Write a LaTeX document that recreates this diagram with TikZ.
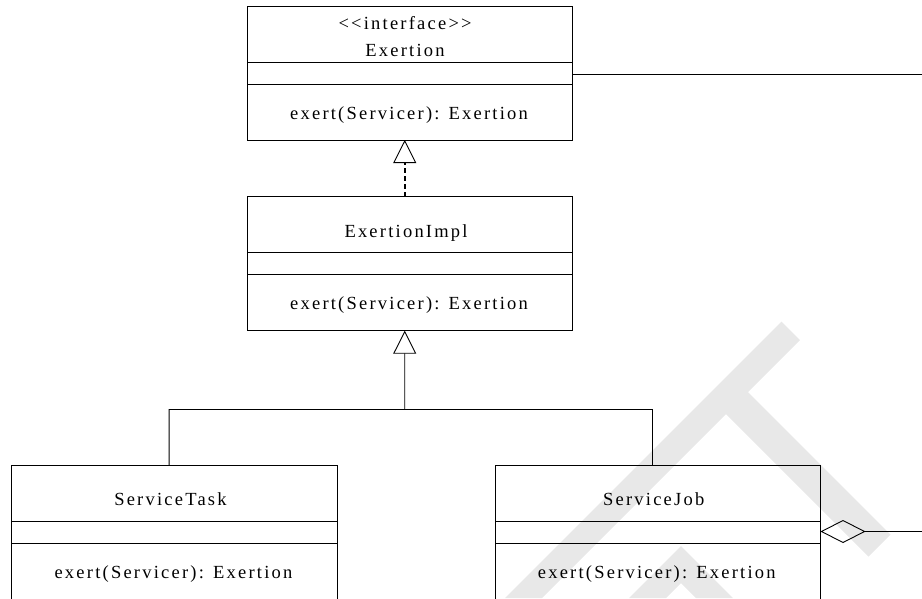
\documentclass[tikz,border=0pt]{standalone}
\usepackage{fontspec}
\newfontfamily\umlfont[LetterSpace=12]{Liberation Serif}
\usetikzlibrary{arrows.meta}
\definecolor{wmgray}{RGB}{232,232,232}
\tikzset{
  umlclass/.style={draw, line width=0.9pt, anchor=north west, minimum width=325.5pt,
    minimum height=134pt, inner sep=0pt, outer sep=0pt},
  umltext/.style={font=\umlfont\fontsize{18.5}{22}\selectfont, inner sep=0pt, anchor=base},
  conn/.style={line width=0.9pt},
  realize/.style={line width=1.8pt, dash pattern=on 5pt off 3pt,
    -{Triangle[open,length=23pt,width=23pt,line width=0.9pt]}},
  inherit/.style={conn, -{Triangle[open,length=23pt,width=23pt,line width=0.9pt]}},
  aggreg/.style={conn, {Diamond[open,length=45pt,width=23pt,line width=0.9pt]}-},
}
\begin{document}
\begin{tikzpicture}[x=1pt,y=-1pt]
\useasboundingbox (0,0) rectangle (922,598);

% faint logo in the background
\fill[wmgray] (781.5,321.5) -- (800,340) -- (748,392) -- (890.5,534.5) -- (868.5,556.5)
  -- (726,414) -- (542,598) -- (505,598) -- cycle;
\fill[wmgray] (629,598) -- (681,546) -- (733,598) -- (696,598) -- (681,583) -- (666,598) -- cycle;

% class boxes
\node[umlclass] (ex)   at (247.3,6)     {};
\node[umlclass] (impl) at (247.3,196.7) {};
\node[umlclass] (task) at (11.7,465.3)  {};
\node[umlclass] (job)  at (495,465.3)   {};

% compartments: name / attributes / operations
\foreach \c in {ex,impl,task,job}{
  \draw[conn] ([yshift=-56pt]\c.north west) -- ([yshift=-56pt]\c.north east);
  \draw[conn] ([yshift=-78pt]\c.north west) -- ([yshift=-78pt]\c.north east);
}

% texts
\node[umltext] (exstereo) at ([xshift=-5pt,yshift=-23.3pt]ex.north) {<<interface>>};
\node[umltext] (exname)   at ([xshift=-5pt,yshift=-50pt]ex.north)   {Exertion};
\node[umltext] (exop)     at ([xshift=-1pt,yshift=-113pt]ex.north)  {exert(Servicer): Exertion};

\node[umltext] (implname) at ([xshift=-4pt,yshift=-40.6pt]impl.north) {ExertionImpl};
\node[umltext] (implop)   at ([xshift=-1pt,yshift=-112.6pt]impl.north) {exert(Servicer): Exertion};

\node[umltext] (taskname) at ([xshift=-4pt,yshift=-39.7pt]task.north) {ServiceTask};
\node[umltext] (taskop)   at ([xshift=-1pt,yshift=-113.4pt]task.north) {exert(Servicer): Exertion};

\node[umltext] (jobname)  at ([xshift=-4pt,yshift=-39.7pt]job.north) {ServiceJob};
\node[umltext] (jobop)    at ([xshift=-1pt,yshift=-113.4pt]job.north) {exert(Servicer): Exertion};

% connectors
\coordinate (junc)    at (404.7,409.5);
\coordinate (exline)  at (922,74);
\coordinate (aggend)  at (922,531.5);

\draw[realize] ([xshift=-5.3pt]impl.north) -- ([xshift=-5.3pt]ex.south);
\draw[inherit] ([xshift=-5.3pt]task.north) |- (junc) -- ([xshift=-5.3pt]impl.south);
\draw[conn] ([xshift=-5.8pt]job.north) |- (junc);
\draw[conn] ([yshift=-68pt]ex.north east) -- (exline);
\draw[aggreg] ([yshift=-66.2pt]job.north east) -- (aggend);
\end{tikzpicture}
\end{document}
